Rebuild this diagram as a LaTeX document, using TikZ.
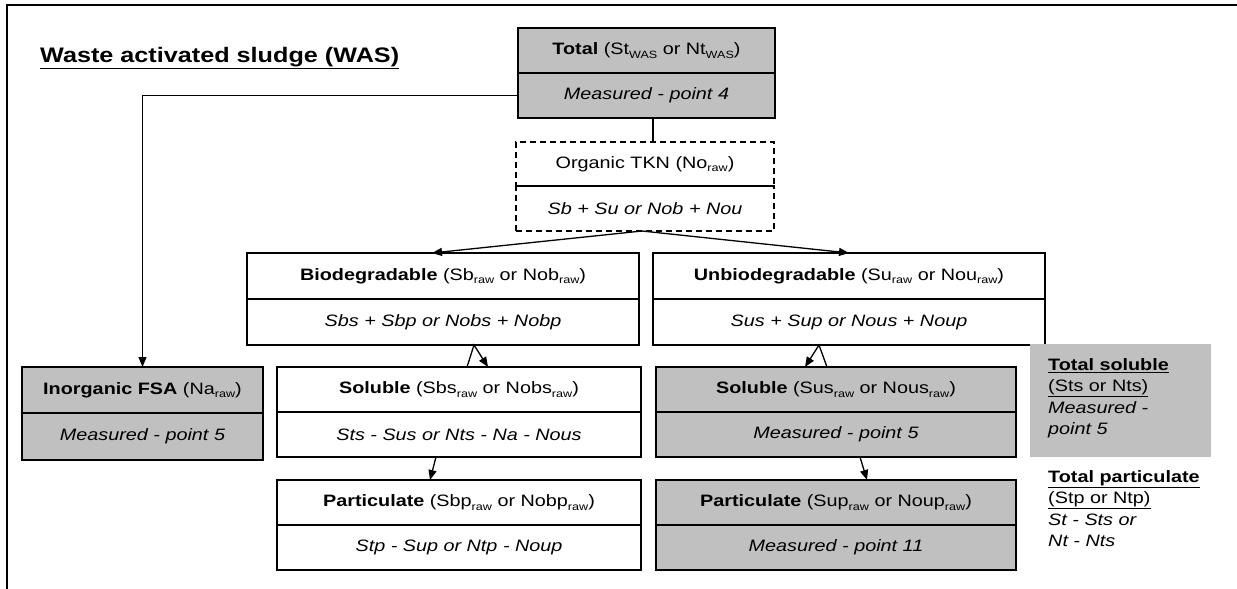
\documentclass[tikz,border=0pt]{standalone}
\usepackage{fontspec}
\setmainfont{Liberation Sans}[FakeStretch=1.2]
\usetikzlibrary{arrows.meta}
\definecolor{boxgray}{RGB}{192,192,192}
% lowered small index text, as in St_WAS or Sb_raw
\newcommand{\lo}[1]{\raisebox{-0.2em}{\fontsize{10.5}{10.5}\selectfont #1}}

\begin{document}
\begin{tikzpicture}[x=1pt,y=-1pt,
  part/.style={draw, line width=1.5pt, inner sep=0pt, outer sep=0pt,
    anchor=north west, align=center, font=\fontsize{16.5}{20}\selectfont},
  lower/.style={part, font=\fontsize{16.5}{20}\selectfont\itshape},
  shaded/.style={fill=boxgray},
  broken/.style={dash pattern=on 6pt off 4pt},
  conn/.style={line width=1.3pt},
  arr/.style={conn, -{Triangle[length=10pt,width=8pt]}},
  note/.style={inner sep=0pt, anchor=north west, align=left,
    font=\fontsize{16.5}{21.5}\selectfont},
]
\useasboundingbox (0,0) rectangle (1237,589);

% page frame
\draw[line width=2pt] (7,589) -- (7,5) -- (1237,5);

% heading
\node[inner sep=0pt, anchor=base west, font=\fontsize{21}{26}\selectfont\bfseries]
  (title) at (40,62) {\underline{Waste activated sludge (WAS)}};

% total
\node[part, shaded, minimum width=257pt, minimum height=45pt] (tot) at (518,28)
  {\textbf{Total} (St\lo{WAS} or Nt\lo{WAS})};
\node[lower, shaded, minimum width=257pt, minimum height=45pt] (totb) at (518,73)
  {Measured - point 4};

% organic TKN
\node[part, broken, minimum width=258pt, minimum height=44pt] (tkn) at (516,142)
  {Organic TKN (No\lo{raw})};
\node[lower, broken, minimum width=258pt, minimum height=45pt] (tknb) at (516,186)
  {Sb + Su or Nob + Nou};

% biodegradable / unbiodegradable
\node[part, minimum width=392pt, minimum height=46pt] (bio) at (247,253)
  {\textbf{Biodegradable} (Sb\lo{raw} or Nob\lo{raw})};
\node[lower, minimum width=392pt, minimum height=46pt] (biob) at (247,299)
  {Sbs + Sbp or Nobs + Nobp};
\node[part, minimum width=392pt, minimum height=46pt] (unb) at (653,253)
  {\textbf{Unbiodegradable} (Su\lo{raw} or Nou\lo{raw})};
\node[lower, minimum width=392pt, minimum height=46pt] (unbb) at (653,299)
  {Sus + Sup or Nous + Noup};

% inorganic FSA
\node[part, shaded, minimum width=241pt, minimum height=46pt] (ino) at (22,367)
  {\textbf{Inorganic FSA} (Na\lo{raw})};
\node[lower, shaded, minimum width=241pt, minimum height=47pt] (inob) at (22,413)
  {Measured - point 5};

% soluble
\node[part, minimum width=364pt, minimum height=45pt] (sol) at (277,367)
  {\textbf{Soluble} (Sbs\lo{raw} or Nobs\lo{raw})};
\node[lower, minimum width=364pt, minimum height=45pt] (solb) at (277,412)
  {Sts - Sus or Nts - Na - Nous};
\node[part, shaded, minimum width=360pt, minimum height=45pt] (usol) at (656,367)
  {\textbf{Soluble} (Sus\lo{raw} or Nous\lo{raw})};
\node[lower, shaded, minimum width=360pt, minimum height=45pt] (usolb) at (656,412)
  {Measured - point 5};

% particulate
\node[part, minimum width=364pt, minimum height=45pt] (par) at (277,480)
  {\textbf{Particulate} (Sbp\lo{raw} or Nobp\lo{raw})};
\node[lower, minimum width=364pt, minimum height=45pt] (parb) at (277,525)
  {Stp - Sup or Ntp - Noup};
\node[part, shaded, minimum width=360pt, minimum height=45pt] (upar) at (656,480)
  {\textbf{Particulate} (Sup\lo{raw} or Noup\lo{raw})};
\node[lower, shaded, minimum width=360pt, minimum height=45pt] (uparb) at (656,525)
  {Measured - point 11};

% side notes
\fill[boxgray] (1030,344) rectangle (1211,457);
\node[note] (tsol) at (1048,358)
  {\underline{\textbf{Total soluble}}\\\underline{(Sts or Nts)}\\\textit{Measured -}\\\textit{point 5}};
\node[note] (tpar) at (1048,470)
  {\underline{\textbf{Total particulate}}\\\underline{(Stp or Ntp)}\\\textit{St - Sts or}\\\textit{Nt - Nts}};

% connectors
\draw[arr] (totb.west) -| (ino.north);
\draw[conn] ([xshift=6.5pt]totb.south) -- ([xshift=6.5pt]totb.south |- tkn.north);
\draw[arr] ([xshift=-3pt]tknb.south) -- ([xshift=-11pt]bio.north);
\draw[arr] ([xshift=-3pt]tknb.south) -- (unb.north);
\draw[arr] ([xshift=8pt]sol.north) -- ([xshift=31pt]biob.south) -- ([xshift=29pt]sol.north);
\draw[arr] ([xshift=-9pt]usol.north) -- ([xshift=-30pt]unbb.south) -- ([xshift=-31pt]usol.north);
\draw[arr] ([xshift=-23pt]solb.south) -- ([xshift=-29pt]par.north);
\draw[arr] ([xshift=24pt]usolb.south) -- ([xshift=31pt]upar.north);
\end{tikzpicture}
\end{document}
